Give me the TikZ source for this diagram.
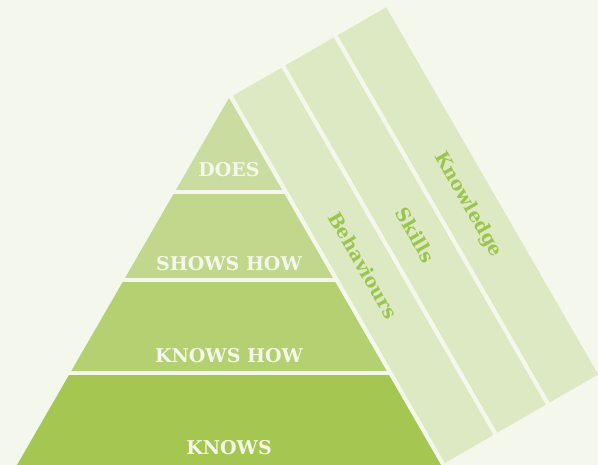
\documentclass[tikz,border=0pt]{standalone}
\usepackage{fontspec}
\setmainfont{DejaVu Serif}
\usetikzlibrary{calc}
\definecolor{bgcol}{RGB}{244,247,235}
\definecolor{doescol}{RGB}{202,220,159}
\definecolor{showscol}{RGB}{193,215,139}
\definecolor{knowshowcol}{RGB}{180,208,112}
\definecolor{knowscol}{RGB}{165,198,80}
\definecolor{stripcol}{RGB}{221,233,195}
\definecolor{labelcol}{RGB}{155,197,79}

\begin{document}
\begin{tikzpicture}[x=1pt,y=1pt]

\tikzstyle{level} = [text=bgcol, font=\fontsize{19}{22}\selectfont\bfseries, inner sep=0]
\tikzstyle{strip} = [fill=stripcol, text=labelcol, minimum width=424, minimum height=56,
inner sep=0, rotate=-60, font=\fontsize{19}{22}\selectfont\bfseries]

\fill[bgcol] (0,0) rectangle (598,465);
\useasboundingbox (0,0) rectangle (598,465);
\clip (0,0) rectangle (598,465);

\coordinate (apex) at (229,367);

\begin{scope}
\clip (apex) -- (17,0) -- (441,0) -- cycle;
\fill[doescol] (0,275) rectangle (598,367);
\fill[showscol] (0,186.5) rectangle (598,270.5);
\fill[knowshowcol] (0,94) rectangle (598,182.5);
\fill[knowscol] (0,0) rectangle (598,89.5);
\end{scope}

\node[level] (does) at (229,295) {DOES};
\node[level] (showshow) at (229,201.5) {SHOWS HOW};
\node[level] (knowshow) at (229,109.5) {KNOWS HOW};
\node[level] (knows) at (229,17.5) {KNOWS};



\node[strip] (behaviours) at ($(apex)+(30:32.5)+(-60:212)$) {Behaviours};
\node[strip] (skills) at ($(apex)+(30:93)+(-60:212)$) {Skills};
\node[strip] (knowledge) at ($(apex)+(30:153.5)+(-60:212)$) {Knowledge};

\end{tikzpicture}
\end{document}
